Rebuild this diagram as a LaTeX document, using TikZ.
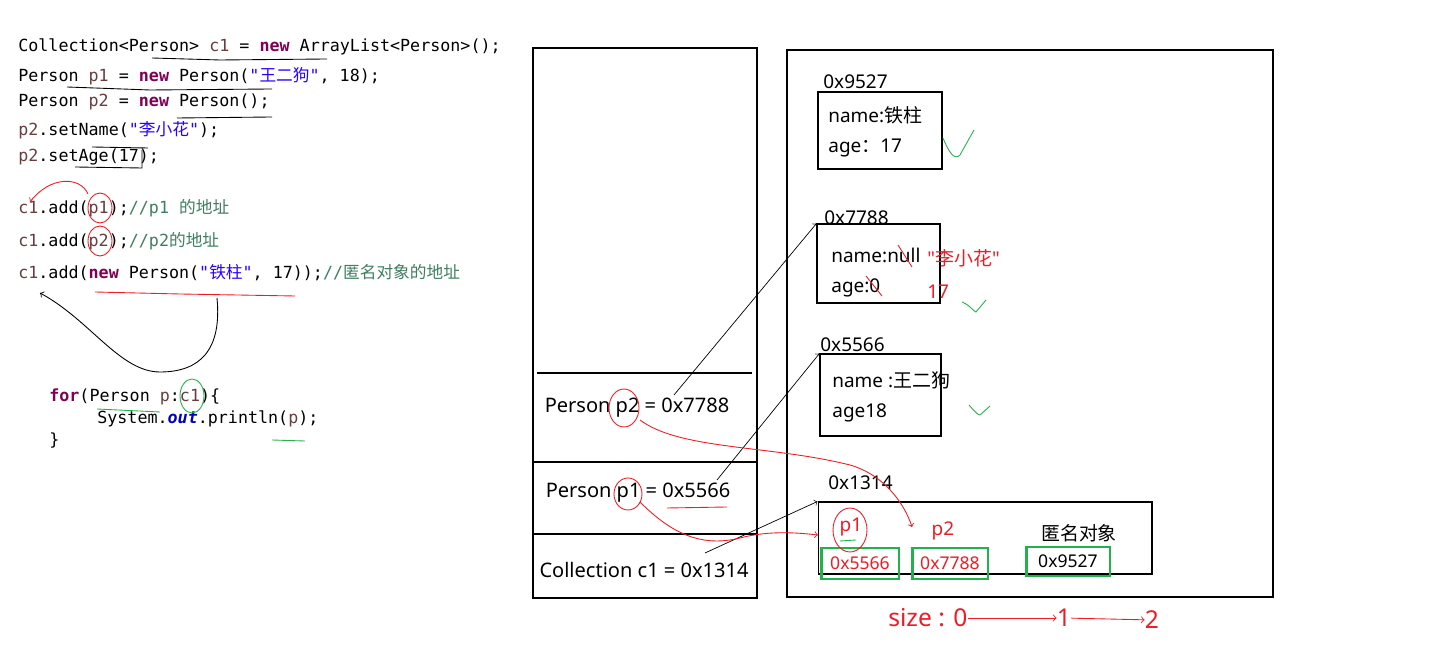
\documentclass[tikz,border=0pt]{standalone}
\usepackage{fontspec}
\setmainfont{Noto Sans}[Ligatures=TeXOff]
\setmonofont{DejaVu Sans Mono}
\newfontfamily\cjk{Noto Sans CJK SC}
\usepackage{tikz}
\usetikzlibrary{arrows,positioning}

\definecolor{kwd}{HTML}{7F0055}
\definecolor{strg}{HTML}{2A00FF}
\definecolor{cmnt}{HTML}{3F7F5F}
\definecolor{lvar}{HTML}{6A3E3E}
\definecolor{fld}{HTML}{0000C0}
\definecolor{pen}{HTML}{EE1C25}
\definecolor{mark}{HTML}{22B14C}

\newcommand{\kw}[1]{{\color{kwd}\bfseries #1}}
\newcommand{\jstr}[1]{{\color{strg}"{\cjk #1}"}}
\newcommand{\cmt}[1]{{\color{cmnt}#1}}
\newcommand{\lv}[1]{{\color{lvar}#1}}

\tikzset{
  code/.style={anchor=west,inner sep=0,font=\ttfamily\fontsize{9.5}{11}\selectfont},
  txt/.style={inner sep=0,font=\fontsize{10.8}{12}\selectfont},
  addr/.style={txt,anchor=west},
  frame/.style={txt,font=\fontsize{11.4}{13}\selectfont},
  objbox/.style={draw,inner sep=0,line width=0.6pt},
  slot/.style={draw=mark,line width=1.7pt,inner sep=0},
  ptr/.style={->,line width=0.4pt},
  redpen/.style={draw=pen,line width=0.5pt},
  greenpen/.style={draw=mark,line width=0.5pt},
  inkpen/.style={draw=black,line width=0.5pt}
}

\begin{document}
\begin{tikzpicture}[x=0.02cm,y=-0.02cm]
  \useasboundingbox[fill=white] (0,0) rectangle (1434,661);

  % code
  \node[code] (l1) at (18,47) {Collection<Person> \lv{c1} = \kw{new} ArrayList<Person>();};
  \node[code] (l2) at (18,76) {Person \lv{p1} = \kw{new} Person(\jstr{王二狗}, 18);};
  \node[code] (l3) at (18,102) {Person \lv{p2} = \kw{new} Person();};
  \node[code] (l4) at (18,130) {\lv{p2}.setName(\jstr{李小花});};
  \node[code] (l5) at (18,157) {\lv{p2}.setAge(17);};
  \node[code] (l6) at (18,208) {\lv{c1}.add(\lv{p1});\cmt{//p1 {\cjk 的地址}}};
  \node[code] (l7) at (18,241) {\lv{c1}.add(\lv{p2});\cmt{//p2{\cjk 的地址}}};
  \node[code] (l8) at (18,273) {\lv{c1}.add(\kw{new} Person(\jstr{铁柱}, 17));\cmt{//{\cjk 匿名对象的地址}}};
  \node[code] (f1) at (49,397) {\kw{for}(Person \lv{p}:\lv{c1})\{};
  \node[code] (f2) at (97,419) {System.{\color{fld}\bfseries\itshape out}.println(\lv{p});};
  \node[code] (f3) at (49,441) {\}};

  % scribbles on the code
  \draw[inkpen] (152,58) -- (220,60) -- (327,59);
  \draw[inkpen] (67,87) -- (150,90) -- (272,89);
  \draw[inkpen] (177,118) -- (272,117);
  \draw[inkpen] (92,147) -- (148,148);
  \draw[inkpen] (75,167) -- (142,168) -- (142,150);
  \draw[redpen] (100,208) ellipse (12 and 15);
  \draw[redpen] (100,241) ellipse (12 and 15);
  \draw[redpen,->] (88,194) .. controls (80,176) and (50,176) .. (30,202);
  \draw[redpen] (95,292) -- (180,294) -- (295,296);
  \draw[inkpen,->] (217,298) .. controls (222,350) and (200,372) .. (160,372)
    .. controls (120,372) and (90,320) .. (40,293);
  \draw[greenpen] (192,396) ellipse (12 and 17);
  \draw[greenpen] (97,409) -- (160,412);
  \draw[greenpen] (272,440) -- (305,441);

  % stack
  \draw[line width=0.6pt] (533,48) rectangle (757,598);
  \draw[line width=0.6pt] (537,373) -- (752,373);
  \draw[line width=0.6pt] (533,462) -- (757,462);
  \draw[line width=0.6pt] (533,534) -- (757,534);
  \node[frame] (sp2) at (637,408) {Person p2 = 0x7788};
  \node[frame] (sp1) at (638,493) {Person p1 = 0x5566};
  \node[frame] (sc1) at (644,570) {Collection c1 = 0x1314};

  % heap
  \draw[line width=0.6pt] (787,50) rectangle (1273,597);

  \node[objbox,minimum width=2.48cm,minimum height=1.54cm] (o9527) at (880,130.5) {};
  \node[addr] (a9527) at (823,82) {0x9527};
  \node[addr] at (828,115) {name:{\cjk 铁柱}};
  \node[addr] at (828,148) {age{\cjk ：}17};

  \node[objbox,minimum width=2.46cm,minimum height=1.58cm] (o7788) at (878.5,263.5) {};
  \node[addr] (a7788) at (824,218) {0x7788};
  \node[addr] (n7788) at (831,255) {name:null};
  \node[addr] (g7788) at (831,288) {age:0};
  \node[addr,text=pen] (newname) at (927,258) {"{\cjk 李小花}"};
  \node[addr,text=pen] (newage) at (927,292) {17};
  \draw[redpen] (898,245) -- (912,267);
  \draw[redpen] (866,276) -- (882,296);

  \node[objbox,minimum width=2.42cm,minimum height=1.64cm] (o5566) at (880.5,395) {};
  \node[addr] (a5566) at (820,345) {0x5566};
  \node[addr] at (832,380) {name :{\cjk 王二狗}};
  \node[addr] at (832,413) {age18};

  \node[objbox,minimum width=6.68cm,minimum height=1.44cm] (o1314) at (985,538) {};
  \node[addr] (a1314) at (828,483) {0x1314};
  \node[txt,text=pen] (hp1) at (851,527) {p1};
  \node[txt,text=pen] (hp2) at (943,531) {p2};
  \node[txt] (anon) at (1079,533) {\cjk 匿名对象};
  \node[slot,minimum width=1.56cm,minimum height=0.62cm,text=pen] (s1) at (860,563.5) {0x5566};
  \node[slot,minimum width=1.52cm,minimum height=0.62cm,text=pen] (s2) at (950,563.5) {0x7788};
  \node[slot,minimum width=1.68cm,minimum height=0.58cm] (s3) at (1068,561.5) {0x9527};

  % references
  \coordinate (t2) at (674,395);
  \coordinate (t1) at (717,480);
  \coordinate (tc) at (705,553);
  \draw[ptr] (t2) -- (o7788.north west);
  \draw[ptr] (t1) -- (o5566.north west);
  \draw[ptr] (tc) -- (o1314.north west);

  % red marks
  \draw[redpen] (624,408) ellipse (15 and 19);
  \draw[redpen] (628,494) ellipse (14 and 16);
  \draw[redpen] (667,508) -- (727,507);
  \draw[redpen,->] (640,420) .. controls (680,450) and (770,445) .. (850,465)
    .. controls (885,475) and (905,505) .. (912,527);
  \draw[redpen,->] (640,502) .. controls (670,532) and (700,548) .. (740,538)
    .. controls (770,530) and (800,533) .. (818,535);
  \draw[redpen] (850,530) ellipse (17 and 22);
  \draw[greenpen] (840,541) -- (856,540);

  % checks
  \draw[greenpen] (943,138) .. controls (950,155) and (955,160) .. (960,155) -- (974,130);
  \draw[greenpen] (962,302) .. controls (970,305) and (974,312) .. (976,312) -- (986,300);
  \draw[greenpen] (969,405) .. controls (975,412) and (978,415) .. (980,415) -- (990,406);

  % size counter
  \node[txt,text=pen,anchor=west,font=\fontsize{14}{16}\selectfont] (sz0) at (888,618) {size : 0};
  \node[txt,text=pen,font=\fontsize{14}{16}\selectfont] (sz1) at (1064,618) {1};
  \node[txt,text=pen,font=\fontsize{14}{16}\selectfont] (sz2) at (1152,620) {2};
  \draw[redpen,->] (sz0) -- (sz1);
  \draw[redpen,->] (sz1) -- (sz2);
\end{tikzpicture}
\end{document}
